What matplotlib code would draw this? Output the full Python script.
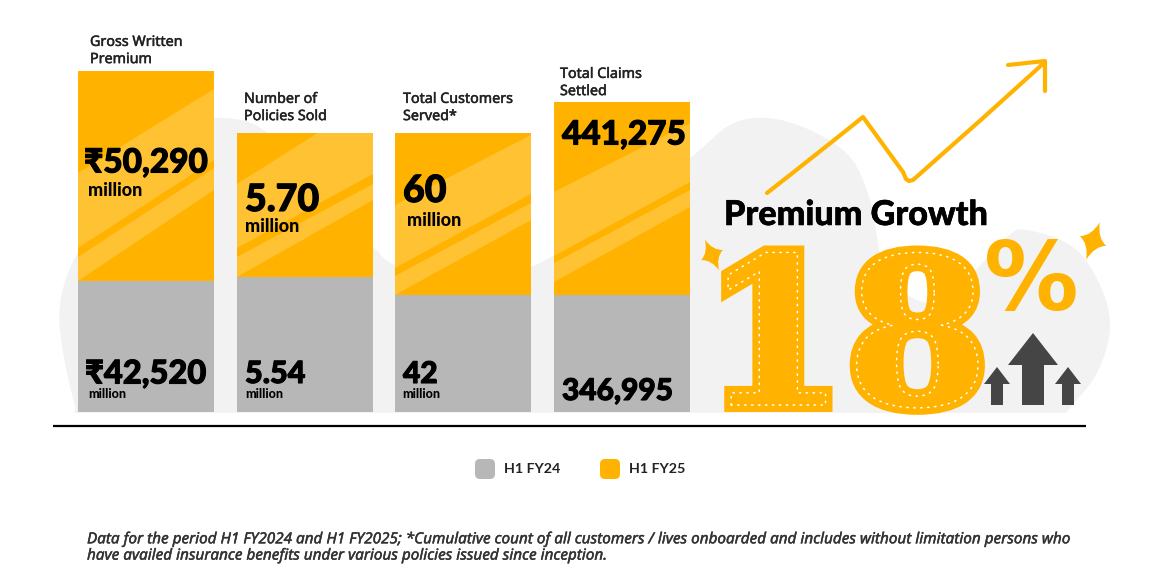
import matplotlib
matplotlib.use("Agg")
import matplotlib.pyplot as plt
import matplotlib.patheffects as pe
from matplotlib.patches import Polygon, PathPatch, FancyBboxPatch, Rectangle
from matplotlib.path import Path
import numpy as np

ORANGE = "#FFB300"
STRIPE = "#FFC233"
GREY = "#B7B7B7"
BLOB = "#F2F2F2"
DARK = "#454545"
SANS = ["Lato", "DejaVu Sans"]
WIDE = ["Noto Sans", "DejaVu Sans"]

### data ###
titles = ["Gross Written\nPremium", "Number of\nPolicies Sold", "Total Customers\nServed*", "Total Claims\nSettled"]
h1_fy24_labels = ["₹42,520", "5.54", "42", "346,995"]
h1_fy25_labels = ["₹50,290", "5.70", "60", "441,275"]
units_24 = ["million", "million", "million", ""]
units_25 = ["million", "million", "million", ""]
# the bars are drawn to no common scale, these are their drawn heights
h1_fy24_heights = [131, 135, 117, 117]
h1_fy25_heights = [210, 144, 162, 193]
bar_lefts = [78, 237, 395, 554]
bar_width = 136

# label positions, picture pixels
title_x = [90, 244, 403, 560]
title_y = [51, 108, 108, 83]
val25_x = [84, 245, 403, 562]
val25_y = [163, 200, 191, 135]
val25_size = [24, 27, 27, 24]
unit25_x = [88, 245, 407, 0]
unit25_y = [190, 226, 221, 0]
val24_x = [85, 245, 403, 562]
val24_y = [374, 374, 374, 391]
val24_size = [23.5, 22, 21.5, 21.5]
unit24_x = [88, 245, 402, 0]
unit24_y = [394, 394, 394, 0]

# stripes per bar: big stripe then thin one, (y left top, y right top, y left bottom, y right bottom)
stripes = [
    [(173, 89, 248, 160), (257, 168, 281, 190)],
    [(184, 98, 248, 174), (257, 184, 277, 200)],
    [(205, 135, 268, 194), (276, 203, 295, 220)],
    [(192, 123, 256, 182), (263, 190, 282, 207)],
]

fig = plt.figure(figsize=(11.61, 5.86), dpi=100)
ax = fig.add_axes([0, 0, 1, 1])
ax.set_xlim(0, 1161)
ax.set_ylim(-174, 412)  # y = 412 - pixel row
ax.axis("off")


def py(p):
    return 412 - p


def smooth(points):
    # closed catmull-rom through the points
    pts = np.array([(x, py(y)) for x, y in points], dtype=float)
    n = len(pts)
    verts = [pts[0]]
    codes = [Path.MOVETO]
    for i in range(n):
        p0, p1, p2, p3 = pts[i - 1], pts[i], pts[(i + 1) % n], pts[(i + 2) % n]
        verts += [p1 + (p2 - p0) / 6, p2 - (p3 - p1) / 6, p2]
        codes += [Path.CURVE4] * 3
    return Path(verts, codes)


### background blob ###
blob_pts = [(60, 330), (64, 285), (85, 240), (130, 170), (175, 130), (222, 118), (270, 135), (330, 210),
            (373, 247), (395, 265), (460, 285), (531, 267), (600, 225), (690, 158), (730, 125), (767, 118),
            (810, 130), (850, 157), (870, 200), (880, 253), (893, 283), (923, 302), (950, 295), (973, 273),
            (1007, 237), (1027, 230), (1073, 247), (1100, 285), (1110, 327), (1097, 373), (1067, 412),
            (1040, 450), (500, 450), (95, 440), (75, 405)]
blob = PathPatch(smooth(blob_pts), fc=BLOB, ec="none", zorder=1)
ax.add_patch(blob)
blob.set_clip_path(Rectangle((0, py(413)), 1161, 500, transform=ax.transData))

### bars ###
centers = [x + bar_width / 2 for x in bar_lefts]
ax.bar(centers, h1_fy24_heights, width=bar_width, color=GREY, zorder=2)
bars25 = ax.bar(centers, h1_fy25_heights, width=bar_width, bottom=h1_fy24_heights, color=ORANGE, zorder=2)

for i, bar in enumerate(bars25):
    x0, x1 = bar_lefts[i], bar_lefts[i] + bar_width
    for yl0, yr0, yl1, yr1 in stripes[i]:
        p = Polygon([(x0, py(yl0)), (x1, py(yr0)), (x1, py(yr1)), (x0, py(yl1))], fc=STRIPE, ec="none", zorder=3)
        ax.add_patch(p)
        p.set_clip_path(bar)

heavy = [pe.withStroke(linewidth=0.8, foreground="black")]
medium = [pe.withStroke(linewidth=0.35, foreground="#222222")]
for i in range(4):
    ax.text(title_x[i], py(title_y[i]), titles[i], family=WIDE, fontsize=10.3, fontweight="medium",
            color="#222222", va="center", ha="left", linespacing=1.2, zorder=5, path_effects=medium)
    ax.text(val25_x[i], py(val25_y[i]), h1_fy25_labels[i], family=SANS, fontsize=val25_size[i], fontweight="black",
            color="black", va="center", zorder=5, path_effects=heavy)
    ax.text(val24_x[i], py(val24_y[i]), h1_fy24_labels[i], family=SANS, fontsize=val24_size[i], fontweight="black",
            color="black", va="center", zorder=5, path_effects=heavy)
    if units_25[i]:
        ax.text(unit25_x[i], py(unit25_y[i]), units_25[i], family=SANS, fontsize=13, fontweight="black",
                color="black", va="center", zorder=5)
    if units_24[i]:
        ax.text(unit24_x[i], py(unit24_y[i]), units_24[i], family=SANS, fontsize=9, fontweight="black",
                color="black", va="center", zorder=5)

### baseline and legend ###
ax.plot([53, 1086], [py(426), py(426)], color="black", lw=1.6, solid_capstyle="butt", zorder=4)
for x, c, lab in [(475, GREY, "H1 FY24"), (600, ORANGE, "H1 FY25")]:
    ax.add_patch(FancyBboxPatch((x + 5, py(479) + 5), 10, 10, boxstyle="round,pad=5,rounding_size=5",
                                fc=c, ec="none", zorder=4))
    ax.text(x + 29, py(469), lab, family=SANS, fontsize=10.3, fontweight="bold", color="#222222", va="center")

### growth arrow ###
arrow_x = [767, 790, 833, 863, 903, 906, 909, 913, 983, 1045]
arrow_y = [193, 175, 141, 117, 172, 179, 181, 180, 118, 62]
ax.plot(arrow_x, [py(v) for v in arrow_y], color=ORANGE, lw=3, solid_capstyle="round",
        solid_joinstyle="round", zorder=4)
ax.plot([1008, 1045, 1045], [py(65), py(61), py(91)], color=ORANGE, lw=3, solid_capstyle="round",
        solid_joinstyle="round", zorder=4)

### premium growth ###
ax.text(724, py(215), "Premium Growth", family=SANS, fontsize=24.6, fontweight="black", color="black",
        va="center", zorder=5, path_effects=[pe.withStroke(linewidth=0.4, foreground="black")])
stitched = [
    pe.Stroke(linewidth=10, foreground=ORANGE, joinstyle="miter"),
    pe.Stroke(linewidth=1.1, foreground="white", capstyle="round", dashes={"dash_offset": 0, "dash_list": (1, 4)}),
]
ax.text(703, py(405), "1", family="DejaVu Serif", fontsize=148, fontweight="bold", color=ORANGE,
        va="baseline", ha="left", zorder=5, path_effects=stitched)
ax.text(846, py(405), "8", family="DejaVu Serif", fontsize=148, fontweight="bold", color=ORANGE,
        va="baseline", ha="left", zorder=5, path_effects=stitched)
ax.text(984, py(284), "%", family="DejaVu Sans", fontsize=68, fontweight="bold", color=ORANGE, va="center", zorder=5)


def star(cx, cy, rx, ry, angle):
    # four pointed sparkle
    a = np.radians(angle)
    tips = [(0, -ry), (rx, 0), (0, ry), (-rx, 0)]
    ctrl = [(0.22 * rx, -0.22 * ry), (0.22 * rx, 0.22 * ry), (-0.22 * rx, 0.22 * ry), (-0.22 * rx, -0.22 * ry)]

    def place(x, y):
        return (cx + x * np.cos(a) - y * np.sin(a), py(cy + x * np.sin(a) + y * np.cos(a)))

    verts = [place(*tips[0])]
    codes = [Path.MOVETO]
    for i in range(4):
        verts += [place(*ctrl[i]), place(*tips[(i + 1) % 4])]
        codes += [Path.CURVE3, Path.CURVE3]
    ax.add_patch(PathPatch(Path(verts, codes), fc=ORANGE, ec="none", zorder=5))


star(712, 255, 12, 17, -25)
star(1093, 241, 14, 20, 20)


def up_arrow(cx, tip, base, half, stem, bottom):
    ax.add_patch(Polygon([(cx, py(tip)), (cx + half, py(base)), (cx + stem, py(base)), (cx + stem, py(bottom)),
                          (cx - stem, py(bottom)), (cx - stem, py(base)), (cx - half, py(base))],
                         fc=DARK, ec="none", zorder=5))


up_arrow(1033, 333, 365, 25, 11, 405)
up_arrow(997, 367, 384, 13, 6, 405)
up_arrow(1068, 367, 384, 13, 6, 405)

### footnote ###
ax.text(87, py(548), "Data for the period H1 FY2024 and H1 FY2025; *Cumulative count of all customers / lives onboarded and includes without limitation persons who\n"
        "have availed insurance benefits under various policies issued since inception.",
        family=WIDE, fontsize=11, fontweight="medium", style="italic", color="#333333", va="center", linespacing=1.12,
        path_effects=[pe.withStroke(linewidth=0.3, foreground="#333333")])

fig.savefig("out.png", dpi=100)
